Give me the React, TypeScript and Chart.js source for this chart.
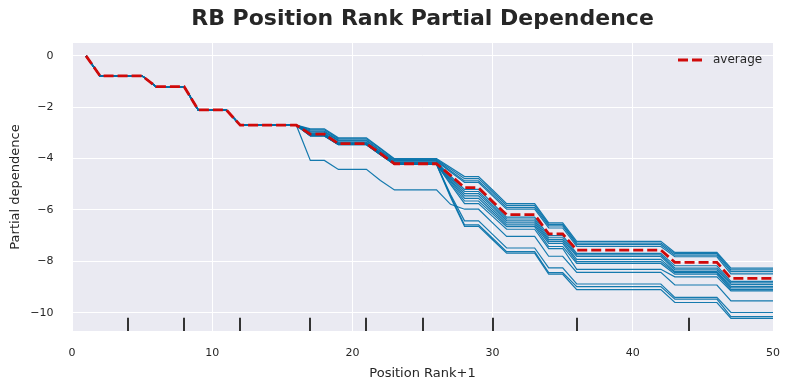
import React, { useEffect, useRef } from 'react';
import { Chart, registerables } from 'chart.js';

Chart.register(...registerables);

const chartTitle = 'RB Position Rank Partial Dependence';
const xAxisTitle = 'Position Rank+1';
const yAxisTitle = 'Partial dependence';
const legendLabel = 'average';

const xTicks = [0, 10, 20, 30, 40, 50];
const yTicks = [0, -2, -4, -6, -8, -10];
const deciles = [4, 8, 12, 17, 21, 25, 30, 36, 44];

const positionRank = [
  1, 2, 3, 4, 5, 6, 7, 8, 9, 10, 11, 12, 13, 14, 15, 16, 17, 18, 19, 20, 21, 22, 23, 24, 25,
  26, 27, 28, 29, 30, 31, 32, 33, 34, 35, 36, 37, 38, 39, 40, 41, 42, 43, 44, 45, 46, 47, 48, 49, 50,
];

const averagePD = [
  0, -0.78, -0.78, -0.78, -0.78, -1.2, -1.2, -1.2, -2.1, -2.1, -2.1, -2.7, -2.7, -2.7, -2.7, -2.7,
  -3.05, -3.05, -3.42, -3.42, -3.42, -3.8, -4.2, -4.2, -4.2, -4.2, -4.65, -5.13, -5.13, -5.67,
  -6.18, -6.18, -6.18, -6.93, -6.93, -7.56, -7.56, -7.56, -7.56, -7.56, -7.56, -7.56,
  -8.04, -8.04, -8.04, -8.04, -8.66, -8.66, -8.66, -8.66,
];

const ice01 = [
  0, -0.78, -0.78, -0.78, -0.78, -1.2, -1.2, -1.2, -2.1, -2.1, -2.1, -2.7, -2.7, -2.7, -2.7, -2.7,
  -2.84, -2.84, -3.19, -3.19, -3.19, -3.6, -4.0, -4.0, -4.0, -4.0, -4.35, -4.7, -4.7, -5.22,
  -5.75, -5.75, -5.75, -6.5, -6.5, -7.22, -7.22, -7.22, -7.22, -7.22, -7.22, -7.22,
  -7.65, -7.65, -7.65, -7.65, -8.26, -8.26, -8.26, -8.26,
];
const ice02 = [
  0, -0.78, -0.78, -0.78, -0.78, -1.2, -1.2, -1.2, -2.1, -2.1, -2.1, -2.7, -2.7, -2.7, -2.7, -2.7,
  -2.88, -2.88, -3.23, -3.23, -3.23, -3.63, -4.03, -4.03, -4.03, -4.03, -4.4, -4.78, -4.78, -5.3,
  -5.82, -5.82, -5.82, -6.56, -6.56, -7.29, -7.29, -7.29, -7.29, -7.29, -7.29, -7.29,
  -7.7, -7.7, -7.7, -7.7, -8.33, -8.33, -8.33, -8.33,
];
const ice03 = [
  0, -0.78, -0.78, -0.78, -0.78, -1.2, -1.2, -1.2, -2.1, -2.1, -2.1, -2.7, -2.7, -2.7, -2.7, -2.7,
  -2.93, -2.93, -3.28, -3.28, -3.28, -3.68, -4.07, -4.07, -4.07, -4.07, -4.47, -4.87, -4.87, -5.38,
  -5.9, -5.9, -5.9, -6.62, -6.62, -7.35, -7.35, -7.35, -7.35, -7.35, -7.35, -7.35,
  -7.76, -7.76, -7.76, -7.76, -8.4, -8.4, -8.4, -8.4,
];
const ice04 = [
  0, -0.78, -0.78, -0.78, -0.78, -1.2, -1.2, -1.2, -2.1, -2.1, -2.1, -2.7, -2.7, -2.7, -2.7, -2.7,
  -2.97, -2.97, -3.31, -3.31, -3.31, -3.71, -4.1, -4.1, -4.1, -4.1, -4.52, -4.93, -4.93, -5.45,
  -5.97, -5.97, -5.97, -6.7, -6.7, -7.42, -7.42, -7.42, -7.42, -7.42, -7.42, -7.42,
  -7.82, -7.82, -7.82, -7.82, -8.49, -8.49, -8.49, -8.49,
];
const ice05 = [
  0, -0.78, -0.78, -0.78, -0.78, -1.2, -1.2, -1.2, -2.1, -2.1, -2.1, -2.7, -2.7, -2.7, -2.7, -2.7,
  -3.02, -3.02, -3.36, -3.36, -3.36, -3.76, -4.14, -4.14, -4.14, -4.14, -4.67, -5.2, -5.2, -5.74,
  -6.28, -6.28, -6.28, -7.0, -7.0, -7.69, -7.69, -7.69, -7.69, -7.69, -7.69, -7.69,
  -8.17, -8.17, -8.17, -8.17, -8.78, -8.78, -8.78, -8.78,
];
const ice06 = [
  0, -0.78, -0.78, -0.78, -0.78, -1.2, -1.2, -1.2, -2.1, -2.1, -2.1, -2.7, -2.7, -2.7, -2.7, -2.7,
  -3.05, -3.05, -3.39, -3.39, -3.39, -3.78, -4.16, -4.16, -4.16, -4.16, -4.72, -5.28, -5.28, -5.82,
  -6.35, -6.35, -6.35, -7.08, -7.08, -7.75, -7.75, -7.75, -7.75, -7.75, -7.75, -7.75,
  -8.26, -8.26, -8.26, -8.26, -8.84, -8.84, -8.84, -8.84,
];
const ice07 = [
  0, -0.78, -0.78, -0.78, -0.78, -1.2, -1.2, -1.2, -2.1, -2.1, -2.1, -2.7, -2.7, -2.7, -2.7, -2.7,
  -3.07, -3.07, -3.41, -3.41, -3.41, -3.8, -4.18, -4.18, -4.18, -4.18, -4.77, -5.36, -5.36, -5.89,
  -6.42, -6.42, -6.42, -7.15, -7.15, -7.81, -7.81, -7.81, -7.81, -7.81, -7.81, -7.81,
  -8.33, -8.33, -8.33, -8.33, -8.9, -8.9, -8.9, -8.9,
];
const ice08 = [
  0, -0.78, -0.78, -0.78, -0.78, -1.2, -1.2, -1.2, -2.1, -2.1, -2.1, -2.7, -2.7, -2.7, -2.7, -2.7,
  -3.09, -3.09, -3.43, -3.43, -3.43, -3.82, -4.2, -4.2, -4.2, -4.2, -4.83, -5.45, -5.45, -5.98,
  -6.5, -6.5, -6.5, -7.22, -7.22, -7.92, -7.92, -7.92, -7.92, -7.92, -7.92, -7.92,
  -8.4, -8.4, -8.4, -8.4, -8.97, -8.97, -8.97, -8.97,
];
const ice09 = [
  0, -0.78, -0.78, -0.78, -0.78, -1.2, -1.2, -1.2, -2.1, -2.1, -2.1, -2.7, -2.7, -2.7, -2.7, -2.7,
  -3.1, -3.1, -3.44, -3.44, -3.44, -3.83, -4.21, -4.21, -4.21, -4.21, -4.88, -5.55, -5.55, -6.07,
  -6.58, -6.58, -6.58, -7.3, -7.3, -8.01, -8.01, -8.01, -8.01, -8.01, -8.01, -8.01,
  -8.44, -8.44, -8.44, -8.44, -9.03, -9.03, -9.03, -9.03,
];
const ice10 = [
  0, -0.78, -0.78, -0.78, -0.78, -1.2, -1.2, -1.2, -2.1, -2.1, -2.1, -2.7, -2.7, -2.7, -2.7, -2.7,
  -3.11, -3.11, -3.45, -3.45, -3.45, -3.84, -4.22, -4.22, -4.22, -4.22, -4.94, -5.65, -5.65, -6.15,
  -6.65, -6.65, -6.65, -7.42, -7.42, -8.08, -8.08, -8.08, -8.08, -8.08, -8.08, -8.08,
  -8.5, -8.5, -8.5, -8.5, -9.1, -9.1, -9.1, -9.1,
];
const ice11 = [
  0, -0.78, -0.78, -0.78, -0.78, -1.2, -1.2, -1.2, -2.1, -2.1, -2.1, -2.7, -2.7, -2.7, -2.7, -2.7,
  -3.12, -3.12, -3.46, -3.46, -3.46, -3.85, -4.23, -4.23, -4.23, -4.23, -5.0, -5.75, -5.75, -6.25,
  -6.75, -6.75, -6.75, -7.5, -7.5, -8.31, -8.31, -8.31, -8.31, -8.31, -8.31, -8.31,
  -8.6, -8.6, -8.6, -8.6, -9.15, -9.15, -9.15, -9.15,
];
const ice12 = [
  0, -0.78, -0.78, -0.78, -0.78, -1.2, -1.2, -1.2, -2.1, -2.1, -2.1, -2.7, -2.7, -2.7, -2.7, -2.7,
  -4.07, -4.07, -4.42, -4.42, -4.42, -4.85, -5.22, -5.22, -5.22, -5.22, -5.78, -5.97, -5.97, -6.5,
  -7.03, -7.03, -7.03, -7.8, -7.8, -8.43, -8.43, -8.43, -8.43, -8.43, -8.43, -8.43,
  -8.92, -8.92, -8.92, -8.92, -9.54, -9.54, -9.54, -9.54,
];
const ice13 = [
  0, -0.78, -0.78, -0.78, -0.78, -1.2, -1.2, -1.2, -2.1, -2.1, -2.1, -2.7, -2.7, -2.7, -2.7, -2.7,
  -3.1, -3.1, -3.44, -3.44, -3.44, -3.83, -4.21, -4.21, -4.21, -4.21, -5.4, -6.42, -6.42, -6.95,
  -7.48, -7.48, -7.48, -8.25, -8.25, -8.88, -8.88, -8.88, -8.88, -8.88, -8.88, -8.88,
  -9.4, -9.4, -9.4, -9.4, -9.99, -9.99, -9.99, -9.99,
];
const ice14 = [
  0, -0.78, -0.78, -0.78, -0.78, -1.2, -1.2, -1.2, -2.1, -2.1, -2.1, -2.7, -2.7, -2.7, -2.7, -2.7,
  -3.11, -3.11, -3.45, -3.45, -3.45, -3.84, -4.22, -4.22, -4.22, -4.22, -5.45, -6.58, -6.58, -7.1,
  -7.62, -7.62, -7.62, -8.44, -8.44, -8.98, -8.98, -8.98, -8.98, -8.98, -8.98, -8.98,
  -9.47, -9.47, -9.47, -9.47, -10.15, -10.15, -10.15, -10.15,
];
const ice15 = [
  0, -0.78, -0.78, -0.78, -0.78, -1.2, -1.2, -1.2, -2.1, -2.1, -2.1, -2.7, -2.7, -2.7, -2.7, -2.7,
  -3.12, -3.12, -3.46, -3.46, -3.46, -3.85, -4.23, -4.23, -4.23, -4.23, -5.5, -6.64, -6.64, -7.16,
  -7.68, -7.68, -7.68, -8.5, -8.5, -9.1, -9.1, -9.1, -9.1, -9.1, -9.1, -9.1,
  -9.6, -9.6, -9.6, -9.6, -10.22, -10.22, -10.22, -10.22,
];

const iceLines = [ice01, ice02, ice03, ice04, ice05, ice06, ice07, ice08, ice09, ice10, ice11, ice12, ice13, ice14, ice15];

const TEXT = '#262626';
const FONT = "'DejaVu Sans', sans-serif";
const ICE_COLOR = 'rgba(2, 112, 168, 0.92)';
const AVG_COLOR = '#d00a0a';

const toPoints = (ys: number[]) => positionRank.map((x, i) => ({ x, y: ys[i] }));
const fmt = (v: number) => String(v).replace('-', '\u2212');

export default function App() {
  const ref = useRef<HTMLCanvasElement>(null);

  useEffect(() => {
    const canvas = ref.current;
    if (!canvas) return;

    const backgroundPlugin = {
      id: 'bgPlugin',
      beforeDraw(chart: any) {
        const { ctx, chartArea } = chart;
        ctx.save();
        ctx.fillStyle = '#ffffff';
        ctx.fillRect(0, 0, chart.width, chart.height);
        ctx.fillStyle = '#EAEAF2';
        ctx.fillRect(chartArea.left, chartArea.top, chartArea.right - chartArea.left, chartArea.bottom - chartArea.top);
        ctx.restore();
      },
    };

    const overlayPlugin = {
      id: 'overlayPlugin',
      afterDatasetsDraw(chart: any) {
        const { ctx, chartArea, scales } = chart;
        const xs = scales.x;
        const h = (chartArea.bottom - chartArea.top) * 0.046;
        ctx.save();
        ctx.strokeStyle = '#333333';
        ctx.lineWidth = 2;
        deciles.forEach((d) => {
          const px = Math.round(xs.getPixelForValue(d));
          ctx.beginPath();
          ctx.moveTo(px, chartArea.bottom);
          ctx.lineTo(px, chartArea.bottom - h);
          ctx.stroke();
        });
        ctx.restore();
      },
      afterDraw(chart: any) {
        const { ctx, chartArea } = chart;
        ctx.save();
        ctx.fillStyle = TEXT;
        ctx.font = `bold 22px ${FONT}`;
        ctx.textAlign = 'center';
        ctx.textBaseline = 'middle';
        ctx.fillText(chartTitle, (chartArea.left + chartArea.right) / 2, 19);
        const ly = chartArea.top + 17;
        const lx = chartArea.right - 95;
        ctx.strokeStyle = AVG_COLOR;
        ctx.lineWidth = 2.8;
        ctx.setLineDash([10, 4]);
        ctx.beginPath();
        ctx.moveTo(lx, ly);
        ctx.lineTo(lx + 25, ly);
        ctx.stroke();
        ctx.setLineDash([]);
        ctx.font = `12px ${FONT}`;
        ctx.textAlign = 'left';
        ctx.fillStyle = TEXT;
        ctx.fillText(legendLabel, lx + 35, ly);
        ctx.restore();
      },
    };

    const iceDatasets = iceLines.map((line, i) => ({
      label: `ice${i + 1}`,
      data: toPoints(line),
      borderColor: ICE_COLOR,
      borderWidth: 1.2,
      pointRadius: 0,
      fill: false,
      tension: 0,
    }));

    const chart = new Chart(canvas, {
      type: 'line',
      data: {
        datasets: [
          {
            label: legendLabel,
            data: toPoints(averagePD),
            borderColor: AVG_COLOR,
            borderWidth: 2.8,
            borderDash: [10, 4],
            pointRadius: 0,
            fill: false,
            tension: 0,
          },
          ...iceDatasets,
        ],
      },
      options: {
        responsive: false,
        animation: false,
        devicePixelRatio: 1,
        layout: { padding: { left: 0, right: 18, top: 43, bottom: 0 } },
        plugins: {
          legend: { display: false },
          title: { display: false },
          tooltip: { enabled: false },
        },
        scales: {
          x: {
            type: 'linear',
            min: 0,
            max: 50,
            afterBuildTicks: (scale: any) => {
              scale.ticks = xTicks.map((v) => ({ value: v }));
            },
            afterFit: (scale: any) => {
              scale.height = 59;
            },
            grid: {
              color: '#ffffff',
              lineWidth: 1,
              drawTicks: true,
              tickLength: 13.5,
              tickColor: 'rgba(0,0,0,0)',
            },
            border: { display: false },
            ticks: {
              padding: 2,
              color: TEXT,
              font: { family: FONT, size: 11 },
              callback: (v: any) => fmt(v),
              maxRotation: 0,
            },
            title: {
              display: true,
              text: xAxisTitle,
              color: TEXT,
              font: { family: FONT, size: 13 },
              padding: { top: 0, bottom: 9 },
            },
          },
          y: {
            type: 'linear',
            min: -10.71,
            max: 0.5,
            afterBuildTicks: (scale: any) => {
              scale.ticks = yTicks.map((v) => ({ value: v }));
            },
            afterFit: (scale: any) => {
              scale.width = 72;
            },
            grid: { color: '#ffffff', lineWidth: 1, drawTicks: false },
            border: { display: false },
            ticks: {
              padding: 18.5,
              color: TEXT,
              font: { family: FONT, size: 11 },
              callback: (v: any) => fmt(v),
            },
            title: {
              display: true,
              text: yAxisTitle,
              color: TEXT,
              font: { family: FONT, size: 13 },
              padding: { top: 7.5, bottom: 0 },
            },
          },
        },
      },
      plugins: [backgroundPlugin, overlayPlugin],
    } as any);

    return () => chart.destroy();
  }, []);

  return (
    <div style={{ position: 'fixed', left: 0, top: 0, width: 791, height: 390, background: '#ffffff' }}>
      <canvas ref={ref} width={791} height={390} style={{ width: 791, height: 390, display: 'block' }} />
    </div>
  );
}
